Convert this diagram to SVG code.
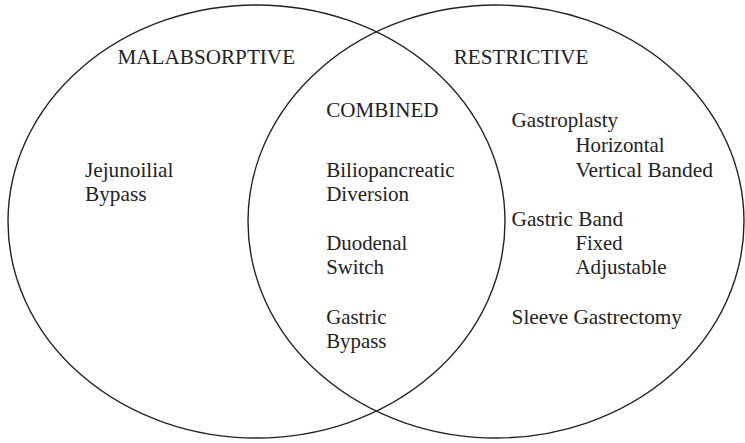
<svg xmlns="http://www.w3.org/2000/svg" width="745" height="443" viewBox="0 0 745 443">
<style>
.c{fill:none;stroke:#222;stroke-width:1.4}
text{font-family:"Liberation Serif","Times New Roman",serif;font-size:21.5px;fill:#222}
</style>
<rect width="745" height="443" fill="#fff"/>
<g id="malabsorptive">
<ellipse class="c" cx="256.5" cy="221.5" rx="248.5" ry="216.5"/>
<text x="117.5" y="64.3" textLength="177.6" lengthAdjust="spacingAndGlyphs">MALABSORPTIVE</text>
<text x="85" y="176.7" textLength="88.4" lengthAdjust="spacingAndGlyphs">Jejunoilial</text>
<text x="85" y="201" textLength="61.5" lengthAdjust="spacingAndGlyphs">Bypass</text>
</g>
<g id="restrictive">
<ellipse class="c" cx="496" cy="221.5" rx="248" ry="216.5"/>
<text x="453.7" y="64.2" textLength="134.7" lengthAdjust="spacingAndGlyphs">RESTRICTIVE</text>
<text x="511.6" y="127.3" textLength="106.5" lengthAdjust="spacingAndGlyphs">Gastroplasty</text>
<text x="575.4" y="152.3" textLength="89.2" lengthAdjust="spacingAndGlyphs">Horizontal</text>
<text x="575.4" y="176.7" textLength="137.6" lengthAdjust="spacingAndGlyphs">Vertical Banded</text>
<text x="511.6" y="226.2" textLength="111.5" lengthAdjust="spacingAndGlyphs">Gastric Band</text>
<text x="575.4" y="250.3" textLength="47.1" lengthAdjust="spacingAndGlyphs">Fixed</text>
<text x="575.4" y="274.3" textLength="91.3" lengthAdjust="spacingAndGlyphs">Adjustable</text>
<text x="511.6" y="324.3" textLength="170.4" lengthAdjust="spacingAndGlyphs">Sleeve Gastrectomy</text>
</g>
<g id="combined">
<text x="326.2" y="117.3" textLength="112.4" lengthAdjust="spacingAndGlyphs">COMBINED</text>
<text x="326.2" y="176.7" textLength="128.4" lengthAdjust="spacingAndGlyphs">Biliopancreatic</text>
<text x="326.2" y="200.8" textLength="82.9" lengthAdjust="spacingAndGlyphs">Diversion</text>
<text x="326.2" y="250.3" textLength="81.2" lengthAdjust="spacingAndGlyphs">Duodenal</text>
<text x="326.2" y="274.3" textLength="57.7" lengthAdjust="spacingAndGlyphs">Switch</text>
<text x="326.2" y="324.3" textLength="60.2" lengthAdjust="spacingAndGlyphs">Gastric</text>
<text x="326.2" y="348.4" textLength="60.2" lengthAdjust="spacingAndGlyphs">Bypass</text>
</g>
<g id="connectors"/>
</svg>
